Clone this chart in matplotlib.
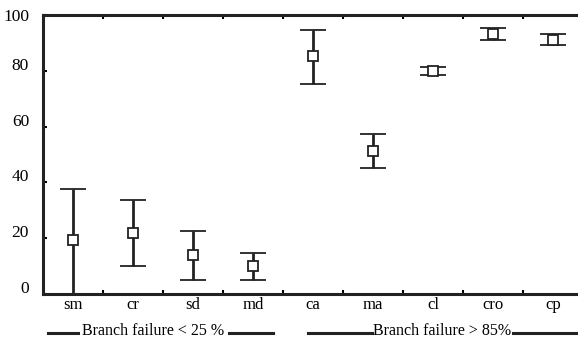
import numpy as np
import matplotlib
matplotlib.use("Agg")
import matplotlib.pyplot as plt
import matplotlib.transforms as mtransforms

# data
species = ["sm", "cr", "sd", "md", "ca", "ma", "cl", "cro", "cp"]
means = [19.2, 22.0, 14.0, 10.0, 85.3, 51.3, 79.8, 93.2, 91.2]
upper = [37.5, 33.6, 22.5, 14.6, 94.8, 57.4, 81.3, 95.4, 93.3]
lower = [0.0, 10.0, 5.0, 5.0, 75.3, 45.2, 78.4, 91.1, 89.4]
y_ticks = [0, 20, 40, 60, 80, 100]
group_labels = ["Branch failure < 25 %", "Branch failure > 85%"]

plt.rcParams['font.family'] = ['Liberation Serif', 'DejaVu Serif']

fig = plt.figure(figsize=(5.78, 3.4), dpi=100)
# axes runs slightly past the right edge like in the scan
ax = fig.add_axes([43 / 578, 46 / 340, 540 / 578, 279 / 340])

x = np.arange(len(species))
m = np.asarray(means)
err = np.vstack([m - np.asarray(lower), np.asarray(upper) - m])
ax.errorbar(x, m, yerr=err, fmt="s", color="#222222", ecolor="#222222",
            elinewidth=2.0, capsize=9.5, capthick=2.0,
            markersize=7.5, markerfacecolor="white", markeredgecolor="#222222",
            markeredgewidth=1.3, zorder=3, clip_on=False)

ax.set_xlim(-0.5, len(species) - 0.5)
ax.set_ylim(0, 100)

for sp in ax.spines.values():
    sp.set_linewidth(2.2)
    sp.set_color("#222222")
ax.spines["right"].set_visible(False)

# minor ticks at the category borders, labels at the centers
ax.set_xticks(x)
ax.set_xticklabels(species, fontsize=12)
ax.set_xticks(np.arange(0.5, len(species) - 0.5), minor=True)
ax.tick_params(axis="x", which="major", length=0, pad=2)
ax.tick_params(axis="x", which="minor", direction="in", length=3, width=1.5,
               top=True, bottom=True)
ax.set_yticks(y_ticks)
ax.set_yticklabels([str(v) for v in y_ticks], fontsize=12.5)
ax.tick_params(axis="y", direction="in", length=3, width=1.5, pad=10)
offset = mtransforms.ScaledTranslation(0, 7 / 100, fig.dpi_scale_trans)
for lab in ax.get_yticklabels()[:-1]:
    lab.set_transform(lab.get_transform() + offset)

# group captions with dashes on both sides (pixel coords)
H = 340.0
ycap = 1 - 331 / H
yline = 1 - 333 / H
for lab, (x0, x1, t0, t1) in zip(group_labels, [(48, 78, 229, 273), (308, 372, 513, 578)]):
    fig.add_artist(plt.Line2D([x0 / 578, x1 / 578], [yline, yline], color="#222222", lw=2.2))
    fig.add_artist(plt.Line2D([t0 / 578, t1 / 578], [yline, yline], color="#222222", lw=2.2))
    fig.text((x1 + t0) / 2 / 578, ycap, lab, ha="center", va="center", fontsize=11.5)

fig.savefig("out.png", dpi=100)
